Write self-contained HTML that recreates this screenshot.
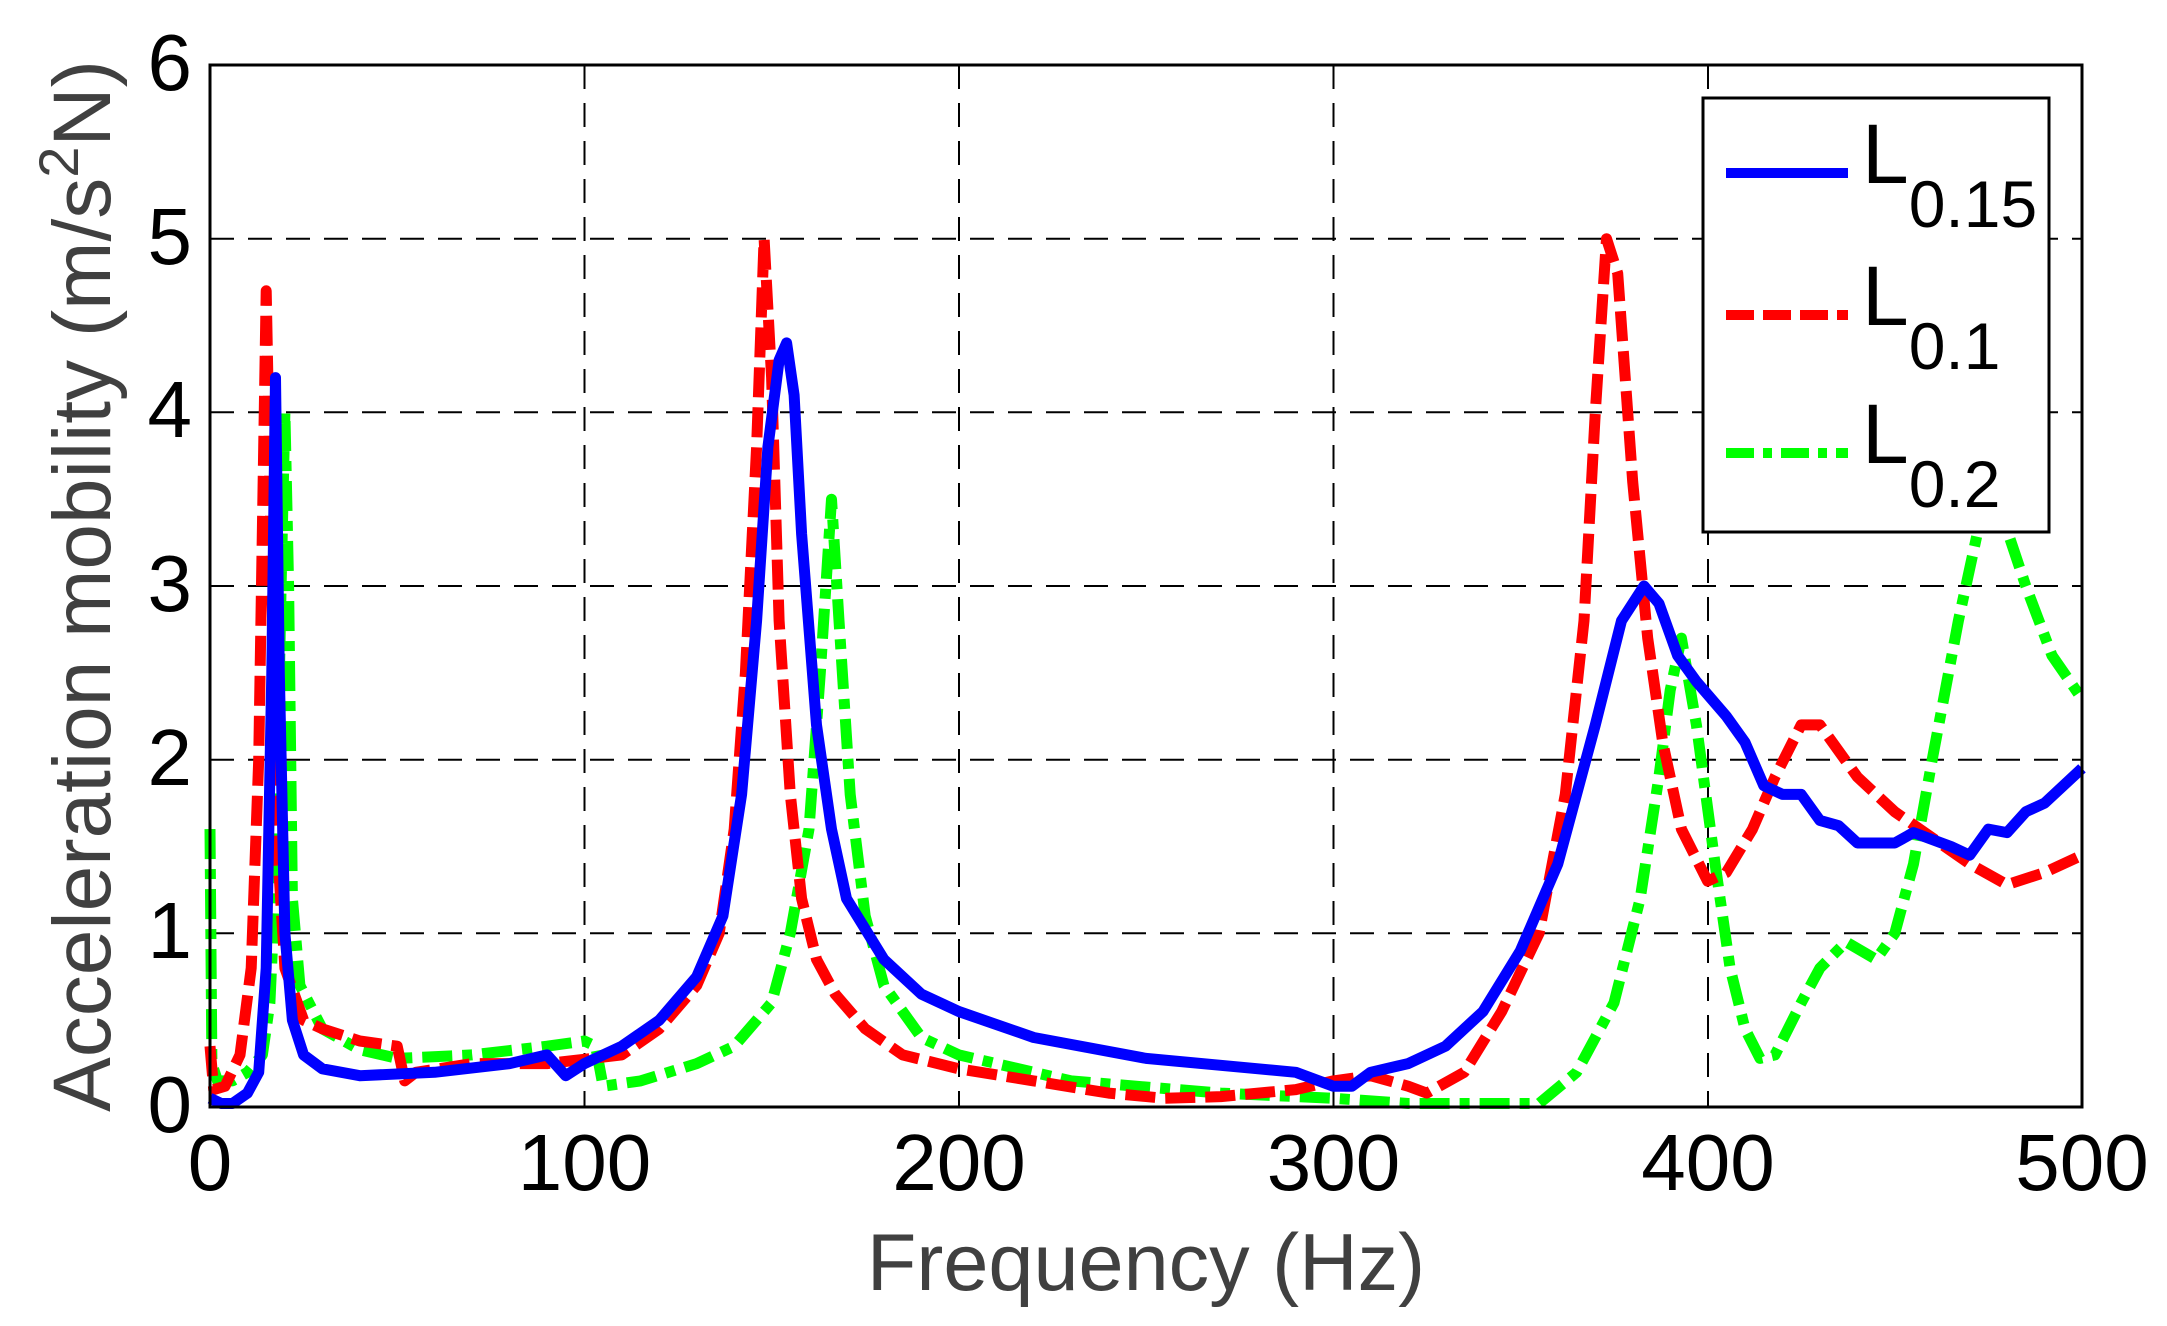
<!DOCTYPE html>
<html><head><meta charset="utf-8"><style>
html,body{margin:0;padding:0;background:#fff;}
svg{display:block;}
text{font-family:"Liberation Sans",Arial,sans-serif;}
</style></head><body>
<svg id="s" width="2167" height="1326" viewBox="0 0 2167 1326" xmlns="http://www.w3.org/2000/svg">
<rect width="2167" height="1326" fill="#fff"/>
<g id="grid" stroke="#000" stroke-width="2" stroke-dasharray="24,14" fill="none">
<line x1="584.5" y1="65" x2="584.5" y2="1107"/>
<line x1="959" y1="65" x2="959" y2="1107"/>
<line x1="1333.5" y1="65" x2="1333.5" y2="1107"/>
<line x1="1708" y1="65" x2="1708" y2="1107"/>
<line x1="210" y1="238.7" x2="2082" y2="238.7"/>
<line x1="210" y1="412.3" x2="2082" y2="412.3"/>
<line x1="210" y1="586" x2="2082" y2="586"/>
<line x1="210" y1="759.7" x2="2082" y2="759.7"/>
<line x1="210" y1="933.3" x2="2082" y2="933.3"/>
</g>
<g id="series" fill="none" stroke-width="11" stroke-linejoin="round"></g>
<rect x="210" y="65" width="1872" height="1042" fill="none" stroke="#000" stroke-width="3"/>
<g font-size="80" fill="#000" text-anchor="middle">
<text x="210" y="1190">0</text><text x="584.5" y="1190">100</text><text x="959" y="1190">200</text>
<text x="1333.5" y="1190">300</text><text x="1708" y="1190">400</text><text x="2082" y="1190">500</text>
</g>
<g font-size="80" fill="#000" text-anchor="end">
<text x="192" y="1132">0</text><text x="192" y="958">1</text><text x="192" y="785">2</text>
<text x="192" y="611">3</text><text x="192" y="437">4</text><text x="192" y="264">5</text><text x="192" y="90">6</text>
</g>
<text x="1146" y="1290" font-size="81" fill="#404040" text-anchor="middle">Frequency (Hz)</text>
<text transform="translate(110,586) rotate(-90)" font-size="82" fill="#404040" text-anchor="middle">Acceleration mobility (m/s<tspan font-size="56" dy="-32">2</tspan><tspan dy="32">N)</tspan></text>
<rect x="1703" y="98" width="346" height="434" fill="#fff" stroke="#000" stroke-width="3"/>
<line x1="1726" y1="173" x2="1848" y2="173" stroke="#0000ff" stroke-width="10"/>
<line x1="1726" y1="315" x2="1848" y2="315" stroke="#ff0000" stroke-width="10" stroke-dasharray="28,9"/>
<line x1="1726" y1="453" x2="1848" y2="453" stroke="#00ff00" stroke-width="10" stroke-dasharray="28,9,9,9"/>
<g font-size="84" fill="#000">
<text x="1862" y="183">L<tspan font-size="66" dy="44">0.15</tspan></text>
<text x="1862" y="325">L<tspan font-size="66" dy="44">0.1</tspan></text>
<text x="1862" y="463">L<tspan font-size="66" dy="44">0.2</tspan></text>
</g>
</svg>
<script>
var X=function(f){return 210+f*3.744},Y=function(v){return 1107-v*173.67};
var blue=[[0,0.05],[3,0.02],[6,0.02],[10,0.08],[13,0.2],[15,0.8],[16.5,2.5],[17.5,4.2],[18.5,2.5],[20,1],[22,0.5],[25,0.3],[30,0.22],[40,0.18],[60,0.2],[80,0.25],[90,0.3],[95,0.18],[100,0.25],[110,0.35],[120,0.5],[130,0.75],[137,1.1],[142,1.8],[146,2.8],[149,3.8],[152,4.3],[154,4.4],[156,4.1],[158,3.3],[162,2.2],[166,1.6],[170,1.2],[180,0.85],[190,0.65],[200,0.55],[220,0.4],[250,0.28],[280,0.22],[290,0.2],[300,0.12],[305,0.12],[310,0.2],[320,0.25],[330,0.35],[340,0.55],[350,0.9],[360,1.4],[370,2.2],[377,2.8],[383,3.0],[387,2.9],[392,2.6],[397,2.45],[405,2.25],[410,2.1],[415,1.85],[420,1.8],[425,1.8],[430,1.65],[435,1.62],[440,1.52],[450,1.52],[455,1.58],[465,1.5],[470,1.45],[475,1.6],[480,1.58],[485,1.7],[490,1.75],[500,1.95]];
var red=[[0,0.35],[1,0.1],[4,0.12],[8,0.3],[11,0.8],[13,2],[15,4.7],[16.5,3],[18,1.5],[20,0.8],[25,0.5],[30,0.45],[40,0.38],[50,0.35],[52,0.15],[55,0.2],[70,0.25],[90,0.25],[110,0.3],[120,0.45],[130,0.7],[136,1.0],[140,1.6],[143,2.5],[146,3.8],[148,5.0],[150,4.2],[152,2.8],[155,1.8],[158,1.2],[162,0.85],[167,0.65],[175,0.45],[185,0.3],[200,0.22],[220,0.15],[240,0.08],[255,0.05],[270,0.06],[290,0.1],[300,0.15],[310,0.18],[320,0.12],[325,0.08],[335,0.2],[345,0.55],[355,1.0],[362,1.8],[367,2.8],[370,4.0],[373,5.0],[376,4.8],[380,3.6],[384,2.7],[388,2.1],[393,1.6],[400,1.3],[405,1.35],[412,1.6],[418,1.9],[425,2.2],[430,2.2],[440,1.9],[450,1.7],[460,1.55],[470,1.4],[480,1.28],[490,1.35],[500,1.45]];
var green=[[0,1.6],[0.5,0.25],[2,0.15],[6,0.15],[10,0.2],[14,0.3],[16,0.6],[17.5,1.3],[19,3],[20,4.0],[21,3],[22,1.2],[24,0.7],[30,0.45],[40,0.33],[50,0.28],[70,0.3],[90,0.35],[100,0.38],[103,0.35],[105,0.12],[115,0.15],[130,0.25],[140,0.35],[150,0.6],[155,1.0],[160,1.6],[163,2.5],[166,3.5],[168,2.8],[171,1.8],[175,1.1],[180,0.7],[190,0.4],[200,0.3],[230,0.15],[270,0.08],[300,0.05],[320,0.02],[355,0.02],[365,0.2],[375,0.6],[382,1.2],[387,1.9],[390,2.4],[393,2.7],[397,2.2],[402,1.4],[406,0.8],[410,0.45],[414,0.28],[418,0.3],[425,0.6],[430,0.8],[437,0.95],[445,0.85],[450,1.0],[455,1.4],[460,2.0],[467,2.8],[472,3.3],[478,3.45],[485,3.0],[492,2.6],[500,2.35]];
function add(d,c,da){var p=document.createElementNS("http://www.w3.org/2000/svg","path");
p.setAttribute("d","M"+d.map(function(q){return X(q[0]).toFixed(1)+","+Y(q[1]).toFixed(1)}).join(" L"));
p.setAttribute("stroke",c);if(da)p.setAttribute("stroke-dasharray",da);document.getElementById("series").appendChild(p);}
add(green,"#00ff00","30,10,10,10");add(red,"#ff0000","30,10");add(blue,"#0000ff");
</script>
</body></html>
